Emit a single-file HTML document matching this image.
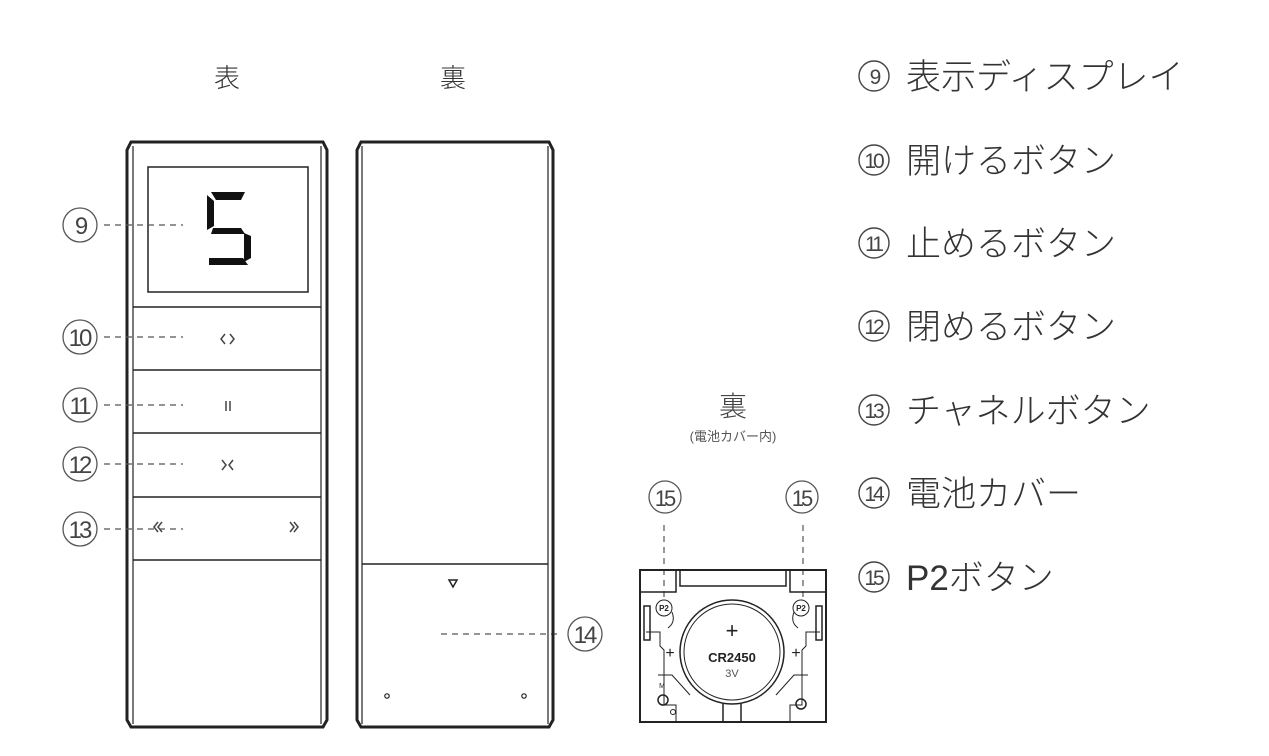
<!DOCTYPE html>
<html><head><meta charset="utf-8"><style>
html,body{margin:0;padding:0;background:#fff;}
svg{display:block;font-family:"Liberation Sans","Noto Sans CJK JP",sans-serif;}
</style></head><body>
<svg width="1269" height="756" viewBox="0 0 1269 756" xmlns="http://www.w3.org/2000/svg">
<g fill="#333" font-size="26" text-anchor="middle">
<text x="227" y="87" font-family="Noto Sans CJK JP, sans-serif" font-weight="300">表</text>
<text x="453" y="87" font-family="Noto Sans CJK JP, sans-serif" font-weight="300">裏</text>
</g>
<!-- front remote -->
<g fill="none" stroke="#222">
<path d="M127 150 L131 142 L323 142 L327 150 L327 720 L323 727 L131 727 L127 720 Z" stroke-width="3"/>
<line x1="133" y1="146" x2="133" y2="724" stroke-width="1.2"/>
<line x1="321" y1="146" x2="321" y2="724" stroke-width="1.2"/>
<rect x="148" y="167" width="160" height="125" stroke-width="1.5"/>
<g stroke-width="1.5">
<line x1="133" y1="307" x2="321" y2="307"/>
<line x1="133" y1="370" x2="321" y2="370"/>
<line x1="133" y1="433" x2="321" y2="433"/>
<line x1="133" y1="497" x2="321" y2="497"/>
<line x1="133" y1="560" x2="321" y2="560"/>
</g>
</g>
<!-- digit 5 -->
<g fill="#111">
<path d="M211 192 L245 192 L241 200 L216 200 Z"/>
<path d="M207 195 L214 201 L214 226 L207 230 Z"/>
<path d="M213 228 L241 228 L245 234 L211 234 Z"/>
<path d="M244 233 L251 236 L251 258 L244 262 Z"/>
<path d="M209 258 L243 258 L248 265 L209 265 Z"/>
</g>
<g fill="none" stroke="#444" stroke-width="1.5">
<path d="M225 334 L221 339 L225 344 M230 334 L234 339 L230 344"/>
<path d="M226 401 V411 M230 401 V411"/>
<path d="M222 460 L226 465 L222 470 M233 460 L229 465 L233 470"/>
<path d="M158 522 L154 527 L158 532 M162 522 L158 527 L162 532"/>
<path d="M290 522 L294 527 L290 532 M294 522 L298 527 L294 532"/>
</g>
<!-- left callouts -->
<g fill="none" stroke="#555" stroke-width="1.2" stroke-dasharray="6,5">
<line x1="104" y1="225" x2="183" y2="225"/>
<line x1="104" y1="337" x2="183" y2="337"/>
<line x1="104" y1="405" x2="183" y2="405"/>
<line x1="104" y1="464" x2="183" y2="464"/>
<line x1="104" y1="529" x2="183" y2="529"/>
<line x1="441" y1="634" x2="562" y2="634"/>
<line x1="664" y1="525" x2="664" y2="600"/>
<line x1="803" y1="525" x2="803" y2="600"/>
</g>
<g fill="none" stroke="#555" stroke-width="1.3">
<circle cx="80" cy="225" r="17"/><circle cx="80" cy="337" r="17"/>
<circle cx="80" cy="405" r="17"/><circle cx="80" cy="464" r="17"/>
<circle cx="80" cy="529" r="17"/><circle cx="585" cy="634" r="17"/>
<circle cx="665" cy="497" r="16"/><circle cx="802" cy="497" r="16"/>
</g>
<g fill="#444" font-size="24" text-anchor="middle" letter-spacing="-3">
<text x="80" y="234">9</text><text x="79" y="346">10</text>
<text x="79" y="414">11</text><text x="79" y="473">12</text>
<text x="79" y="538">13</text><text x="584" y="643">14</text>
<text x="664" y="506" font-size="22">15</text><text x="801" y="506" font-size="22">15</text>
</g>
<!-- back remote -->
<g fill="none" stroke="#222">
<path d="M357 150 L361 142 L549 142 L553 150 L553 720 L549 727 L361 727 L357 720 Z" stroke-width="3"/>
<line x1="362" y1="146" x2="362" y2="724" stroke-width="1.2"/>
<line x1="548" y1="146" x2="548" y2="724" stroke-width="1.2"/>
<line x1="362" y1="564" x2="548" y2="564" stroke-width="1.5"/>
<path d="M449 580 L457 580 L453 587 Z" stroke-width="1.5"/>
<circle cx="387" cy="696" r="2.2" stroke-width="1.2"/>
<circle cx="524" cy="696" r="2.2" stroke-width="1.2"/>
</g>
<!-- battery view -->
<text x="733" y="416" font-size="28" fill="#444" text-anchor="middle" font-family="Noto Sans CJK JP, sans-serif" font-weight="300">裏</text>
<text x="733" y="441" font-size="13" fill="#555" text-anchor="middle">(電池カバー内)</text>
<g fill="none" stroke="#222" stroke-width="1.5">
<rect x="640" y="570" width="186" height="152" stroke-width="2"/>
<path d="M640 592 H676 V570 M680 570 V586 H786 V570 M790 570 V592 H826"/>
<circle cx="732" cy="652" r="52"/>
<circle cx="732" cy="652" r="48" stroke-width="1"/>
<path d="M723 704 V722 M741 704 V722"/>
<path d="M644 606 V640 H650 V606 Z M822 606 V640 H816 V606 Z"/>
<path d="M646 632 H660 V646 L664 650 V705 H676 V722 M820 632 H806 V646 L802 650 V705 H790 V722" stroke-width="1"/>
<circle cx="664" cy="608" r="8" stroke-width="1"/>
<circle cx="801" cy="608" r="8" stroke-width="1"/>
<path d="M672 612 Q676 622 668 628 M794 612 Q790 622 798 628" stroke-width="1"/>
<path d="M658 675 H672 L690 695 M808 675 H794 L776 695" stroke-width="1"/>
<circle cx="663" cy="700" r="5"/><circle cx="801" cy="704" r="5"/>
<circle cx="673" cy="712" r="2.5" stroke-width="1"/>
</g>
<g fill="#222" text-anchor="middle">
<text x="664" y="611" font-size="8" font-weight="bold">P2</text>
<text x="801" y="611" font-size="8" font-weight="bold">P2</text>
<text x="732" y="638" font-size="22" font-weight="300">+</text>
<text x="732" y="662" font-size="13" font-weight="bold">CR2450</text>
<text x="732" y="677" font-size="11" fill="#555">3V</text>
<text x="670" y="658" font-size="16">+</text>
<text x="796" y="658" font-size="16">+</text>
<text x="662" y="688" font-size="7">M</text>
</g>
<!-- right list -->
<g fill="none" stroke="#444" stroke-width="1.4">
<circle cx="874" cy="76" r="15"/><circle cx="874" cy="160" r="15"/>
<circle cx="874" cy="243" r="15"/><circle cx="874" cy="326" r="15"/>
<circle cx="874" cy="410" r="15"/><circle cx="874" cy="493" r="15"/>
<circle cx="874" cy="577" r="15"/>
</g>
<g fill="#444" font-size="21" text-anchor="middle" letter-spacing="-3">
<text x="874" y="84">9</text><text x="873" y="168">10</text>
<text x="873" y="251">11</text><text x="873" y="334">12</text>
<text x="873" y="418">13</text><text x="873" y="501">14</text>
<text x="873" y="585">15</text>
</g>
<g fill="#333" font-size="35" font-family="Liberation Sans, Noto Sans CJK JP, sans-serif" font-weight="300">
<text x="906" y="89">表示ディスプレイ</text>
<text x="906" y="173">開けるボタン</text>
<text x="906" y="256">止めるボタン</text>
<text x="906" y="339">閉めるボタン</text>
<text x="906" y="423">チャネルボタン</text>
<text x="906" y="506">電池カバー</text>
<text x="906" y="590">P2ボタン</text>
</g>
</svg>
</body></html>
